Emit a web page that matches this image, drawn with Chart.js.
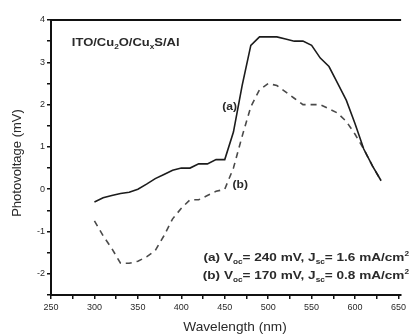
<!DOCTYPE html>
<html lang="en">
<head>
    <meta charset="UTF-8">
    <title>Photovoltage vs Wavelength</title>
    <script src="https://cdn.jsdelivr.net/npm/chart.js"></script>
    <style>
        html, body { margin: 0; padding: 0; background: #fff; }
        #wrap { width: 409px; height: 334px; position: relative; }
    </style>
</head>
<body>
<div id="wrap"><canvas id="pvChart"></canvas></div>
<script>
// wavelength (nm) and photovoltage (mV)
const wavelengths = [300, 310, 320, 330, 340, 350, 360, 370, 380, 390, 400, 410, 420, 430, 440, 450, 460,
    470, 480, 490, 500, 510, 520, 530, 540, 550, 560, 570, 580, 590, 600, 610, 620, 630];
const curveA = [-0.3, -0.2, -0.15, -0.1, -0.07, 0.0, 0.12, 0.25, 0.35, 0.45, 0.5, 0.5, 0.6, 0.6, 0.7, 0.7, 1.35,
    2.45, 3.4, 3.6, 3.6, 3.6, 3.55, 3.5, 3.5, 3.4, 3.1, 2.9, 2.5, 2.1, 1.55, 0.95, 0.55, 0.2];
const curveB = [-0.75, -1.1, -1.4, -1.75, -1.75, -1.7, -1.6, -1.45, -1.1, -0.7, -0.45, -0.25, -0.25, -0.15, -0.05, 0.0, 0.5,
    1.25, 1.95, 2.35, 2.5, 2.45, 2.3, 2.15, 2.0, 2.0, 2.0, 1.9, 1.8, 1.6, 1.3, 0.95, 0.55, 0.2];
const xTickValues = [250, 275, 300, 325, 350, 375, 400, 425, 450, 475, 500, 525, 550, 575, 600, 625, 650];
const yTickValues = [-2.5, -2, -1.5, -1, -0.5, 0, 0.5, 1, 1.5, 2, 2.5, 3, 3.5, 4];

const textColor = "#2a2a2a";
const fontFamily = "'Liberation Sans', Arial, sans-serif";

function pairs(ys) {
    return wavelengths.map((w, i) => ({ x: w, y: ys[i] }));
}

// text made of pieces, some subscript / superscript; stretch widens it like the scanned figure
function drawRich(ctx, parts, x, y, align, size, stretch) {
    const big = "bold " + size + "px " + fontFamily;
    const small = "bold " + Math.round(size * 0.6) + "px " + fontFamily;
    let total = 0;
    parts.forEach(p => {
        ctx.font = p.sub || p.sup ? small : big;
        total += ctx.measureText(p.t).width;
    });
    ctx.save();
    ctx.translate(x, y);
    ctx.scale(stretch, 1);
    let cx = align === "right" ? -total : 0;
    ctx.textBaseline = "middle";
    ctx.textAlign = "left";
    parts.forEach(p => {
        ctx.font = p.sub || p.sup ? small : big;
        let dy = p.sub ? size * 0.35 : (p.sup ? -size * 0.35 : 0);
        ctx.fillText(p.t, cx, dy);
        cx += ctx.measureText(p.t).width;
    });
    ctx.restore();
}

const extras = {
    id: "extras",
    afterDraw(chart) {
        const ctx = chart.ctx;
        const area = chart.chartArea;
        const xs = chart.scales.x, ys = chart.scales.y;
        ctx.save();
        // top frame line
        ctx.strokeStyle = "#111";
        ctx.lineWidth = 2;
        ctx.beginPath();
        ctx.moveTo(area.left, area.top);
        ctx.lineTo(area.right, area.top);
        ctx.stroke();

        ctx.fillStyle = textColor;
        // axis titles
        ctx.font = "13px " + fontFamily;
        ctx.textAlign = "center";
        ctx.textBaseline = "middle";
        ctx.save();
        ctx.translate(235, 327);
        ctx.scale(1.05, 1);
        ctx.fillText("Wavelength (nm)", 0, 0);
        ctx.restore();
        ctx.save();
        ctx.translate(17, 163);
        ctx.rotate(-Math.PI / 2);
        ctx.fillText("Photovoltage (mV)", 0, 0);
        ctx.restore();

        // annotations
        drawRich(ctx, [{ t: "ITO/Cu" }, { t: "2", sub: true }, { t: "O/Cu" }, { t: "x", sub: true }, { t: "S/Al" }],
            xs.getPixelForValue(274), ys.getPixelForValue(3.46), "left", 11, 1.18);
        drawRich(ctx, [{ t: "(a)" }], xs.getPixelForValue(447), ys.getPixelForValue(1.94), "left", 11, 1.1);
        drawRich(ctx, [{ t: "(b)" }], xs.getPixelForValue(459), ys.getPixelForValue(0.1), "left", 11, 1.1);
        drawRich(ctx, [{ t: "(a) V" }, { t: "oc", sub: true }, { t: "= 240 mV, J" }, { t: "sc", sub: true },
            { t: "= 1.6 mA/cm" }, { t: "2", sup: true }], 409, 258, "right", 11.5, 1.18);
        drawRich(ctx, [{ t: "(b) V" }, { t: "oc", sub: true }, { t: "= 170 mV, J" }, { t: "sc", sub: true },
            { t: "= 0.8 mA/cm" }, { t: "2", sup: true }], 409, 276, "right", 11.5, 1.18);
        ctx.restore();
    }
};

const ctx = document.getElementById("pvChart").getContext("2d");
new Chart(ctx, {
    type: "line",
    data: {
        datasets: [
            {
                label: "(a)",
                data: pairs(curveA),
                borderColor: "#1c1c1c",
                borderWidth: 1.6,
                pointRadius: 0,
                tension: 0,
                fill: false
            },
            {
                label: "(b)",
                data: pairs(curveB),
                borderColor: "#4a4a4a",
                borderWidth: 1.6,
                borderDash: [6, 5],
                pointRadius: 0,
                tension: 0,
                fill: false
            }
        ]
    },
    options: {
        responsive: true,
        maintainAspectRatio: false,
        animation: false,
        layout: { padding: { top: 20, right: 0, left: 0, bottom: 0 } },
        plugins: {
            legend: { display: false },
            tooltip: { enabled: false }
        },
        scales: {
            x: {
                type: "linear",
                min: 250,
                max: 653,
                afterBuildTicks: s => { s.ticks = xTickValues.map(v => ({ value: v })); },
                afterFit: s => { s.height = 39; },
                border: { color: "#111", width: 2 },
                grid: { drawOnChartArea: false, tickLength: 4, color: "#111", lineWidth: 1.5 },
                ticks: {
                    autoSkip: false,
                    maxRotation: 0,
                    padding: 3,
                    color: textColor,
                    font: { family: fontFamily, size: 9 },
                    callback: v => (v % 50 === 0 ? String(v) : "")
                }
            },
            y: {
                type: "linear",
                min: -2.5,
                max: 4,
                afterBuildTicks: s => { s.ticks = yTickValues.map(v => ({ value: v })); },
                afterFit: s => { s.width = 51; },
                border: { color: "#111", width: 2 },
                grid: { drawOnChartArea: false, tickLength: 4, color: "#111", lineWidth: 1.5 },
                ticks: {
                    autoSkip: false,
                    padding: 2,
                    color: textColor,
                    font: { family: fontFamily, size: 9 },
                    callback: v => (Number.isInteger(v) ? String(v) : "")
                }
            }
        }
    },
    plugins: [extras]
});
</script>
</body>
</html>
